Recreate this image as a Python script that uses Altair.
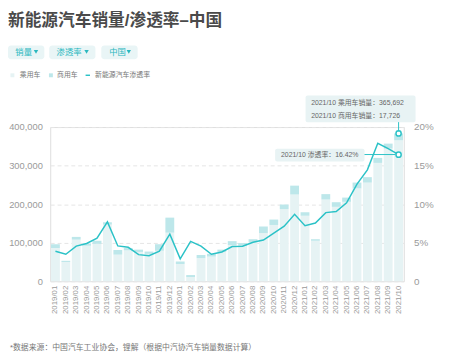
import altair as alt
import pandas as pd

months = [
    "2019/01", "2019/02", "2019/03", "2019/04", "2019/05", "2019/06", "2019/07", "2019/08", "2019/09", "2019/10", "2019/11", "2019/12",
    "2020/01", "2020/02", "2020/03", "2020/04", "2020/05", "2020/06", "2020/07", "2020/08", "2020/09", "2020/10", "2020/11", "2020/12",
    "2021/01", "2021/02", "2021/03", "2021/04", "2021/05", "2021/06", "2021/07", "2021/08", "2021/09", "2021/10",
]
passenger = [
    86000, 50000, 108000, 92000, 97000, 147000, 69000, 80000, 76000, 71000, 79000, 126000,
    45000, 11000, 60000, 64000, 76000, 94000, 92000, 102000, 125000, 146000, 187000, 225000,
    170000, 105000, 212000, 193000, 206000, 241000, 256000, 307000, 344000, 365692,
]
commercial = [
    10000, 3000, 7000, 6000, 8000, 6000, 12000, 6000, 6000, 6000, 17000, 39000,
    6000, 5000, 8000, 7000, 6000, 10000, 7000, 7000, 17000, 14000, 12000, 23000,
    9000, 4000, 14000, 12000, 11000, 15000, 14000, 13000, 13000, 17726,
]
penetration = [
    3.9, 3.5, 4.55, 4.9, 5.6, 7.7, 4.58, 4.4, 3.45, 3.3, 3.9, 6.1,
    2.9, 5.17, 4.55, 3.5, 3.8, 4.5, 4.55, 5.05, 5.35, 6.25, 7.15, 8.69,
    7.2, 7.55, 8.9, 9.05, 10.18, 12.6, 14.45, 17.9, 17.2, 16.42,
]
series_names = ["乘用车", "商用车"]
left_ticks = [0, 100000, 200000, 300000, 400000]
right_ticks = [0, 5, 10, 15, 20]

title_text = "新能源汽车销量/渗透率–中国"
buttons = ["销量", "渗透率", "中国"]
legend_line = "新能源汽车渗透率"
footer = "*数据来源：中国汽车工业协会，锂解（根据中汽协汽车销量数据计算）"

FONT = "Liberation Sans, Noto Sans CJK SC, sans-serif"
C_PASS = "#e6f3f4"
C_COMM = "#bde7ea"
C_LINE = "#2bc2c7"
C_BTN = "#e9f5f6"
C_BTN_T = "#2ab8bf"
C_BOX = "#e8f3f4"

df = pd.DataFrame({"month": months, "passenger": passenger, "commercial": commercial, "pen": penetration})
df["total"] = df["passenger"] + df["commercial"]
last = df.tail(1)

long = pd.DataFrame({
    "month": months * 2,
    "type": [series_names[0]] * len(months) + [series_names[1]] * len(months),
    "val": passenger + commercial,
    "ord": [0] * len(months) + [1] * len(months),
})

x_enc = alt.X(
    "month:N", sort=months, title=None,
    scale=alt.Scale(paddingInner=0.15, paddingOuter=0.075),
    axis=alt.Axis(labelAngle=-90, labelFontSize=8, labelColor="#9a9a9a", labelPadding=4,
                  ticks=False, domain=False, grid=False, labelFont=FONT),
)

y_left_scale = alt.Scale(domain=[0, 400000], nice=False)
y_right_scale = alt.Scale(domain=[0, 20], nice=False)
left_axis = alt.Axis(values=left_ticks, orient="left", labelFontSize=9.5,
                     labelExpr="format(datum.value, ',')",
                     labelColor="#9a9a9a", labelPadding=8, ticks=False, domain=False,
                     grid=True, gridColor="#e4e4e4", gridDash=[4, 3], gridWidth=1,
                     labelFont=FONT)
right_axis = alt.Axis(orient="right", values=right_ticks,
                      labelExpr="datum.value == 0 ? '0' : datum.value + '%'",
                      labelFontSize=10, labelColor="#9a9a9a", labelPadding=10,
                      ticks=False, domain=False, grid=False, labelFont=FONT)

bars = alt.Chart(long).mark_bar().encode(
    x=x_enc,
    y=alt.Y("val:Q", stack="zero", title=None, scale=y_left_scale, axis=left_axis),
    color=alt.Color("type:N", scale=alt.Scale(domain=series_names, range=[C_PASS, C_COMM]), legend=None),
    order=alt.Order("ord:Q", sort="ascending"),
)

circle1 = alt.Chart(last).mark_point(filled=True, fill="white", stroke=C_LINE, strokeWidth=1.5,
                                     size=28, opacity=1).encode(
    x=x_enc, y=alt.Y("total:Q", title=None, scale=y_left_scale, axis=left_axis))

left_group = alt.layer(bars, circle1)

line = alt.Chart(df).mark_line(color=C_LINE, strokeWidth=1.5).encode(
    x=x_enc,
    y=alt.Y("pen:Q", title=None, scale=y_right_scale, axis=right_axis),
)
circle2 = alt.Chart(last).mark_point(filled=True, fill="white", stroke=C_LINE, strokeWidth=1.5,
                                     size=28, opacity=1).encode(
    x=x_enc, y=alt.Y("pen:Q", title=None, scale=y_right_scale, axis=right_axis))

right_group = alt.layer(line, circle2)

one = pd.DataFrame({"k": [0]})


def txt(s, x, y, size, color, weight="normal", align="left"):
    return alt.Chart(one).mark_text(align=align, baseline="middle", fontSize=size, color=color,
                                    font=FONT, fontWeight=weight).encode(
        x=alt.value(x), y=alt.value(y), text=alt.value(s))


def box(x1, x2, y1, y2, fill, radius=3):
    return alt.Chart(one).mark_rect(fill=fill, cornerRadius=radius).encode(
        x=alt.value(x1), x2=alt.value(x2), y=alt.value(y1), y2=alt.value(y2))


def tri(x, y):
    return alt.Chart(one).mark_point(shape="triangle-down", filled=True, color=C_BTN_T, size=20,
                                     opacity=1).encode(x=alt.value(x), y=alt.value(y))


deco = [
    txt(title_text, -43, -108, 17, "#4a4a4a", weight="bold"),
    box(-43, -6, -83, -69, C_BTN), box(-1, 46, -83, -69, C_BTN), box(52, 89, -83, -69, C_BTN),
    txt(buttons[0], -35.5, -76, 8.5, C_BTN_T), tri(-14.5, -76.5),
    txt(buttons[1], 6.5, -76, 8.5, C_BTN_T), tri(37, -76.5),
    txt(buttons[2], 60, -76, 8.5, C_BTN_T), tri(80, -76.5),
    alt.Chart(one).mark_square(color=C_PASS, size=16, opacity=1).encode(x=alt.value(-38.5), y=alt.value(-52.7)),
    alt.Chart(one).mark_square(color=C_COMM, size=16, opacity=1).encode(x=alt.value(0.7), y=alt.value(-52.7)),
    alt.Chart(one).mark_rule(color=C_LINE, strokeWidth=1.5).encode(
        x=alt.value(36), x2=alt.value(40.5), y=alt.value(-52.7)),
    txt(series_names[0], -31, -52.7, 7, "#777777"),
    txt(series_names[1], 7, -52.7, 7, "#777777"),
    txt(legend_line, 45.7, -52.7, 7, "#777777"),
    txt(footer, -41, 225, 8, "#777777"),
    # annotations
    box(260, 372, -32, -5, C_BOX, radius=2),
    txt("2021/10 乘用车销量：{:,}".format(passenger[-1]), 265.7, -24.3, 7, "#666666"),
    txt("2021/10 商用车销量：{:,}".format(commercial[-1]), 265.7, -11.7, 7, "#666666"),
    alt.Chart(last).mark_rule(color=C_LINE, strokeWidth=1).encode(
        x=x_enc, y=alt.value(-5), y2=alt.value(4.5)),
    box(229, 320, 22, 35, C_BOX, radius=2),
    txt("2021/10 渗透率：{:.2f}%".format(penetration[-1]), 235, 28.7, 7, "#666666"),
    alt.Chart(one).mark_rule(color=C_LINE, strokeWidth=1).encode(
        x=alt.value(320), x2=alt.value(351.5), y=alt.value(28)),
]

chart = alt.layer(left_group, right_group, *deco).resolve_scale(y="independent").properties(
    width=360, height=157,
    autosize=alt.AutoSizeParams(type="none"),
    padding={"left": 43, "top": 118, "right": 44, "bottom": 78},
).configure_view(stroke=None).configure(font=FONT, background="white")

chart.save("out.html", embed_options={"renderer": "svg", "actions": False})
